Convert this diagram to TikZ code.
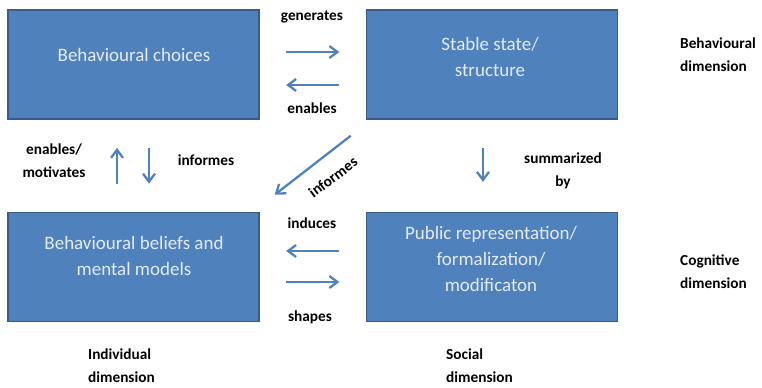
\documentclass[tikz,border=0pt]{standalone}
\usepackage{fontspec}
\setmainfont{Carlito}
\usepackage{tikz}
\usetikzlibrary{arrows.meta}
\definecolor{boxblue}{RGB}{79,129,189}
\definecolor{boxedge}{RGB}{56,93,138}
\definecolor{boxtext}{RGB}{228,236,246}
\newcommand{\lb}{\fontsize{8.7}{13}\selectfont\bfseries}
\newcommand{\bx}{\fontsize{10.8}{14.6}\selectfont}

\begin{document}
\begin{tikzpicture}[x=0.02cm,y=-0.02cm,
    blk/.style={draw=boxedge,line width=0.9pt,fill=boxblue,inner sep=0pt,
                minimum width=5.02cm,minimum height=2.18cm},
    blktxt/.style={text=boxtext,align=center,font=\bx},
    flow/.style={draw=boxblue,line width=1.3pt,-{Straight Barb[length=4.6pt,width=6.8pt]}},
    tag/.style={align=center,font=\lb},
    dimtag/.style={align=left,anchor=west,font=\lb}]
       \useasboundingbox (0,0) rectangle (762,388);
       % boxes
       \node[blk] (choices) at (133.5,64.5) {};
       \node[blk] (stable)  at (492,64.5) {};
       \node[blk] (beliefs) at (133.5,267) {};
       \node[blk] (public)  at (492,267) {};
       \node[blktxt] (choicesTxt) at (134,55)  {Behavioural choices};
       \node[blktxt] (stableTxt)  at (490,57)  {Stable state/\\structure};
       \node[blktxt] (beliefsTxt) at (134,256) {Behavioural beliefs and\\mental models};
       \node[blktxt] (publicTxt)  at (491,259) {Public representation/\\formalization/\\modificaton};
       % arrows
       \draw[flow,shorten <=15,shorten >=15] ([yshift=0.25cm]choices.east) -- ([yshift=0.25cm]stable.west);
       \draw[flow,shorten <=15,shorten >=15] ([yshift=-0.41cm]stable.west) -- ([yshift=-0.41cm]choices.east);
       \draw[flow,shorten <=15,shorten >=15] ([yshift=0.32cm]public.west) -- ([yshift=0.32cm]beliefs.east);
       \draw[flow,shorten <=15,shorten >=15] ([yshift=-0.3cm]beliefs.east) -- ([yshift=-0.3cm]public.west);
       \draw[flow,shorten <=16,shorten >=16] ([xshift=-0.33cm]beliefs.north) -- ([xshift=-0.33cm]choices.south);
       \draw[flow,shorten <=16,shorten >=16] ([xshift=0.31cm]choices.south) -- ([xshift=0.31cm]beliefs.north);
       \draw[flow,shorten <=16,shorten >=17] ([xshift=-0.18cm]stable.south) -- ([xshift=-0.18cm]public.north);
       \draw[flow] ([xshift=-0.3cm,yshift=-0.32cm]stable.south west) -- ([xshift=0.3cm,yshift=0.34cm]beliefs.north east);
       % arrow labels
       \node[tag] (genLbl) at (312,17)  {generates};
       \node[tag] (enbLbl) at (312,108) {enables};
       \node[tag] (motLbl) at (54,161)  {enables/\\motivates};
       \node[tag] (infLbl) at (206,160) {informes};
       \node[tag,rotate=37] (infDiag) at (333,177) {informes};
       \node[tag] (sumLbl) at (563,171) {summarized\\by};
       \node[tag] (indLbl) at (312,223) {induces};
       \node[tag] (shpLbl) at (310,317) {shapes};
       % dimension labels
       \node[dimtag] (behDim) at (674,55)  {Behavioural\\dimension};
       \node[dimtag] (cogDim) at (674,272) {Cognitive\\dimension};
       \node[dimtag] (indDim) at (82,366)  {Individual\\dimension};
       \node[dimtag] (socDim) at (440,366) {Social\\dimension};
      \end{tikzpicture}
\end{document}
